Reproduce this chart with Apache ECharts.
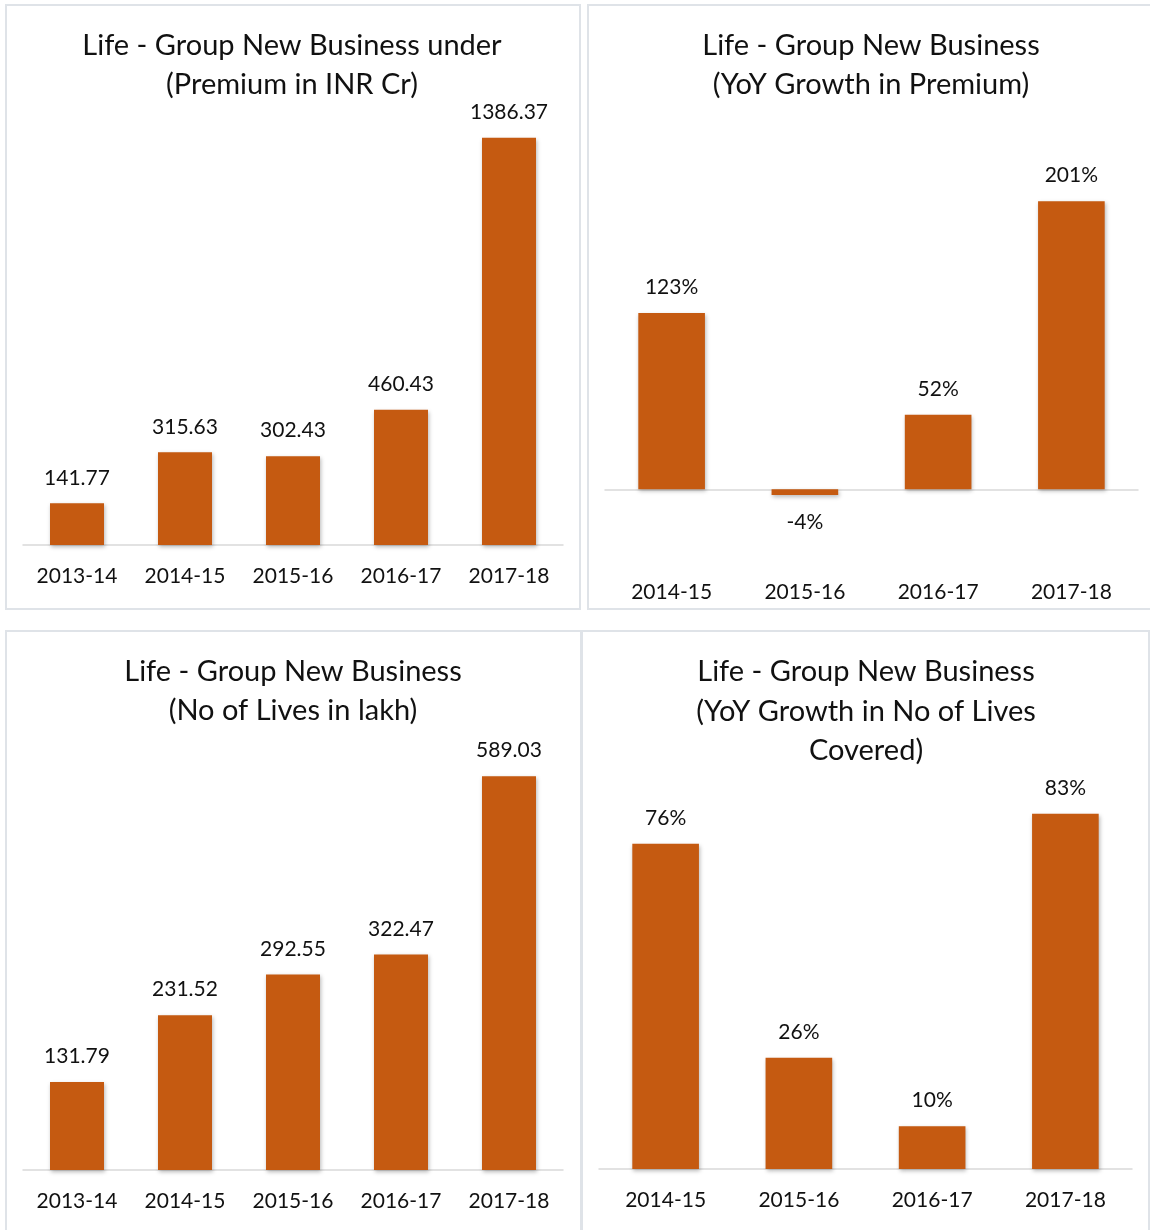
<!DOCTYPE html>
<html><head><meta charset="utf-8">
<script src="https://cdn.jsdelivr.net/npm/echarts@6/dist/echarts.min.js"></script>
<style>html,body{margin:0;padding:0;background:#fff}#c{width:1150px;height:1230px}</style>
</head><body><div id="c"></div>
<script>
const years5 = ['2013-14','2014-15','2015-16','2016-17','2017-18'];
const years4 = ['2014-15','2015-16','2016-17','2017-18'];
const premium = [141.77, 315.63, 302.43, 460.43, 1386.37];
const premiumGrowth = [123, -4, 52, 201];
const lives = [131.79, 231.52, 292.55, 322.47, 589.03];
const livesGrowth = [76, 26, 10, 83];
const titles = [
  'Life - Group New Business under\n(Premium in INR Cr)',
  'Life - Group New Business\n(YoY Growth in Premium)',
  'Life - Group New Business\n(No of Lives in lakh)',
  'Life - Group New Business\n(YoY Growth in No of Lives\nCovered)'
];

const FONT = 'Lato, "Open Sans", sans-serif';
const BAR = '#C55A11';
const AXIS = '#D9D9D9';
const BORDER = '#DFE3E8';

const chart = echarts.init(document.getElementById('c'), null, {renderer:'canvas'});

function xCat(gridIndex, data, opts) {
  return Object.assign({
    type:'category', gridIndex, data,
    axisLine:{show:true, lineStyle:{color:AXIS, width:1.5}},
    axisTick:{show:false},
    axisLabel:{color:'#111', fontSize:21, fontFamily:FONT, margin:21}
  }, opts||{});
}
function yVal(gridIndex, min, max) {
  return {type:'value', gridIndex, min, max, show:false, splitLine:{show:false}};
}
const barStyle = {color:BAR, shadowColor:'rgba(0,0,0,0.28)', shadowBlur:4, shadowOffsetY:2, shadowOffsetX:1};
const lbl = (fmt) => ({show:true, position:'top', distance:15, color:'#111', fontSize:21, fontFamily:FONT, formatter:fmt});
const titleFont = '29px ' + FONT;

const option = {
  animation:false,
  grid:[
    {left:23, top:75, width:540, height:470},
    {left:605, top:131, width:533, height:430},
    {left:23, top:702, width:540, height:468},
    {left:599, top:741, width:533, height:428}
  ],
  xAxis:[
    xCat(0, years5),
    xCat(1, years4, {axisLabel:{show:false}, axisLine:{show:true, onZero:true, lineStyle:{color:AXIS, width:1.5}}}),
    xCat(1, years4, {axisLine:{show:false, onZero:false}, position:'bottom', axisLabel:{color:'#111', fontSize:21, fontFamily:FONT, margin:21}}),
    xCat(2, years5),
    xCat(3, years4)
  ],
  yAxis:[
    yVal(0, 0, 1600),
    yVal(1, -50, 250),
    yVal(2, 0, 700),
    yVal(3, 0, 100)
  ],
  series:[
    {type:'bar', xAxisIndex:0, yAxisIndex:0, data:premium, barWidth:'50%', itemStyle:barStyle,
     label:lbl(p => p.value.toFixed(2))},
    {type:'bar', xAxisIndex:1, yAxisIndex:1, barWidth:'50%', itemStyle:barStyle,
     data:premiumGrowth.map(v => v < 0 ? {value:v, label:{position:'bottom', distance:17}} : v),
     label:lbl(p => p.value + '%')},
    {type:'bar', xAxisIndex:3, yAxisIndex:2, data:lives, barWidth:'50%', itemStyle:barStyle,
     label:lbl(p => p.value.toFixed(2))},
    {type:'bar', xAxisIndex:4, yAxisIndex:3, data:livesGrowth, barWidth:'50%', itemStyle:barStyle,
     label:lbl(p => p.value + '%')}
  ],
  graphic:[
    {type:'rect', z:-10, shape:{x:6, y:5, width:574, height:604}, style:{fill:'#fff', stroke:BORDER, lineWidth:2}},
    {type:'rect', z:-10, shape:{x:588, y:5, width:570, height:604}, style:{fill:'#fff', stroke:BORDER, lineWidth:2}},
    {type:'rect', z:-10, shape:{x:6, y:631, width:575, height:610}, style:{fill:'#fff', stroke:BORDER, lineWidth:2}},
    {type:'rect', z:-10, shape:{x:582, y:631, width:567, height:610}, style:{fill:'#fff', stroke:BORDER, lineWidth:2}},
    {type:'text', x:292, y:26, style:{text:titles[0], textAlign:'center', textVerticalAlign:'top', font:titleFont, lineHeight:39, fill:'#111'}},
    {type:'text', x:871, y:26, style:{text:titles[1], textAlign:'center', textVerticalAlign:'top', font:titleFont, lineHeight:39, fill:'#111'}},
    {type:'text', x:293, y:652, style:{text:titles[2], textAlign:'center', textVerticalAlign:'top', font:titleFont, lineHeight:39, fill:'#111'}},
    {type:'text', x:866, y:652, style:{text:titles[3], textAlign:'center', textVerticalAlign:'top', font:titleFont, lineHeight:39.5, fill:'#111'}}
  ]
};
chart.setOption(option);
</script></body></html>
